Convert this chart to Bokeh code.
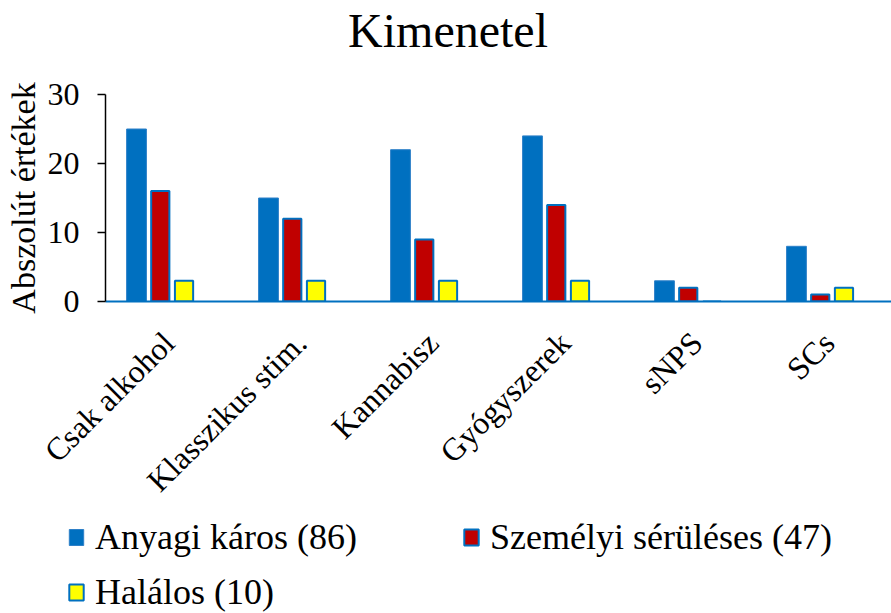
import math
from bokeh.plotting import figure
from bokeh.models import Range1d, FixedTicker, Legend, LegendItem, ColumnDataSource, Label
from bokeh.transform import dodge
from bokeh.core.properties import value
from bokeh.embed import file_html
from bokeh.resources import INLINE

# ---- data ----
categories = ["Csak alkohol", "Klasszikus stim.", "Kannabisz", "Gyógyszerek", "sNPS", "SCs"]
anyagi = [25, 15, 22, 24, 3, 8]
szemelyi = [16, 12, 9, 14, 2, 1]
halalos = [3, 3, 3, 3, 0, 2]
series_names = ["Anyagi káros (86)", "Személyi sérüléses (47)", "Halálos (10)"]
y_ticks = [0, 10, 20, 30]
title_text = "Kimenetel"
y_label = "Abszolút értékek"

FONT = "Liberation Serif"
BLUE = "#0070C0"
BLUE_EDGE = "#2E80C8"
RED = "#C00000"
YELLOW = "#FFFF00"

idx = list(range(len(categories)))
source = ColumnDataSource(dict(idx=idx, a=anyagi, s=szemelyi, h=halalos))
label_source = ColumnDataSource(dict(idx=idx, cat=categories))


def bare(fig):
    fig.xgrid.visible = False
    fig.ygrid.visible = False
    fig.outline_line_color = None
    return fig


def add_bars(fig):
    r1 = fig.vbar(x=dodge("idx", -0.26), top="a", width=0.15, source=source,
                  fill_color=BLUE, line_color=BLUE_EDGE, line_width=1)
    r2 = fig.vbar(x=dodge("idx", -0.08), top="s", width=0.138, source=source,
                  fill_color=RED, line_color=BLUE, line_width=2)
    r3 = fig.vbar(x=dodge("idx", 0.10), top="h", width=0.138, source=source,
                  fill_color=YELLOW, line_color=BLUE, line_width=2)
    return r1, r2, r3


# ---------------- title strip ----------------
p0 = bare(figure(width=891, height=60, output_backend="svg", toolbar_location=None,
                 x_axis_location=None, y_axis_location=None,
                 min_border=0, min_border_left=0, min_border_right=0,
                 min_border_top=0, min_border_bottom=0))
p0.add_layout(Label(x=447.5, y=30, x_units="screen", y_units="screen",
                    text=title_text, text_align="center", text_baseline="middle",
                    text_font=FONT, text_font_size="48px", text_color="black"))

# ---------------- main chart ----------------
p = bare(figure(width=891, height=258, output_backend="svg", toolbar_location=None,
                x_range=Range1d(-0.495, 5.46), y_range=Range1d(0, 30),
                min_border_left=105, min_border_right=0, min_border_top=34,
                min_border_bottom=17))
add_bars(p)

xa = p.xaxis[0]
xa.ticker = FixedTicker(ticks=[])
xa.major_tick_in = 0
xa.major_tick_out = 0
xa.minor_tick_in = 0
xa.minor_tick_out = 0
xa.major_label_standoff = 0
xa.axis_line_color = BLUE
xa.axis_line_width = 2

ya = p.yaxis[0]
ya.ticker = FixedTicker(ticks=y_ticks)
ya.axis_line_color = "black"
ya.axis_line_width = 1.5
ya.major_tick_line_width = 1.5
ya.major_tick_out = 8
ya.major_tick_in = 0
ya.minor_tick_in = 0
ya.minor_tick_out = 0
ya.major_label_standoff = 18
ya.major_label_text_font = FONT
ya.major_label_text_font_size = "32px"
ya.major_label_text_color = "black"
ya.axis_label = y_label
ya.axis_label_text_font = FONT
ya.axis_label_text_font_size = "34px"
ya.axis_label_text_font_style = "normal"
ya.axis_label_text_color = "black"
ya.axis_label_standoff = 3

# ---------------- category labels + legend ----------------
p2 = bare(figure(width=891, height=295, output_backend="svg", toolbar_location=None,
                 x_range=Range1d(-1.29, 5.46), y_range=Range1d(-325, -30),
                 x_axis_location=None, y_axis_location=None,
                 min_border=0, min_border_left=0, min_border_right=0,
                 min_border_top=0, min_border_bottom=0))

p2.text(x="idx", y=0, text="cat", source=label_source, angle=math.pi / 4,
        x_offset=-2, y_offset=49, text_align="right", text_baseline="middle",
        text_font=value(FONT), text_font_size=value("32px"), text_color="black")

# same bar styles, hidden here; they only feed the legend glyphs
k1, k2, k3 = add_bars(p2)
for k in (k1, k2, k3):
    k.visible = False

legend = Legend(
    items=[LegendItem(label=series_names[0], renderers=[k1]),
           LegendItem(label=series_names[1], renderers=[k2]),
           LegendItem(label=series_names[2], renderers=[k3])],
    location=(67, 0), orientation="horizontal", ncols=2, click_policy="none",
    inactive_fill_alpha=0,
    label_text_font=FONT, label_text_font_size="36px", label_text_color="black",
    glyph_width=18, glyph_height=20, label_standoff=10,
    label_width=354, label_height=40, spacing=13,
    padding=0, margin=0, border_line_color=None, background_fill_alpha=0,
)
p2.add_layout(legend, "center")

open("out.html", "w").write(file_html([p0, p, p2], INLINE))
